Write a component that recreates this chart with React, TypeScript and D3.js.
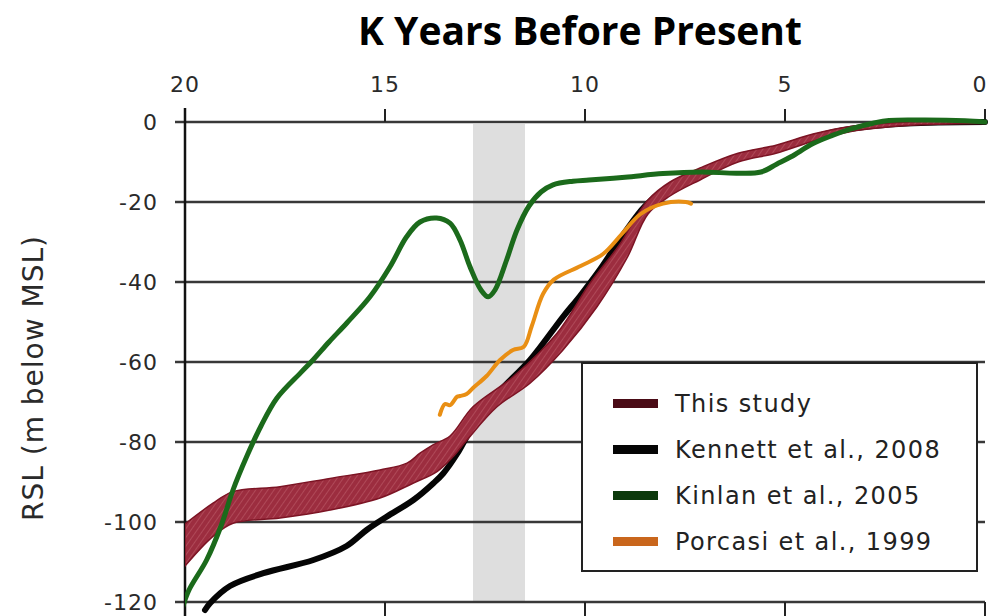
import React from 'react';
import * as d3 from 'd3';

// sea level curves, age = k years BP, rsl = metres relative to MSL
// "This study" envelope: upper and lower edges
const thisStudyUpperAge = [20, 19.3, 18.8, 17.625, 16.375, 15.125, 14.45, 14.125, 13.8, 13.375, 12.8, 11.8, 10.7, 9.875, 9.125, 8.8, 8.425, 7.875, 7.125, 6.175, 5.225, 4.3, 3.35, 1.95, 0];
const thisStudyUpperRsl = [-100.5, -95.3, -92.4, -91.2, -89.1, -87, -85.3, -82.8, -80.7, -78.5, -71.2, -63.7, -52.8, -40.3, -30.5, -25, -19.5, -15, -11.5, -7.8, -5.8, -3, -1.1, 0, 0.3];
const thisStudyLowerAge = [20, 19.3, 18.8, 17.625, 16.375, 15.125, 14.3, 13.7, 13.3, 12.95, 12.2, 11.375, 10.55, 9.7, 8.95, 8.425, 7.875, 7.125, 6.175, 5.225, 4.3, 3.35, 1.95, 0];
const thisStudyLowerRsl = [-111, -103.6, -100.3, -99, -97, -94, -90.3, -87.4, -83.7, -79.5, -71.2, -65.3, -57, -46.2, -34, -23, -18.5, -14.5, -10, -7.8, -4.8, -2.4, -0.9, -0.4];

const kennettAge = [19.5, 19.375, 18.875, 18.04, 16.79, 15.96, 15.46, 14.96, 14.29, 13.79, 13.54, 13.2, 12.8, 12.2, 11.375, 10.55, 10.125, 9.6, 9.0, 8.5, 7.9, 7.1, 6.17, 5.2, 4.3, 3.35, 1.95, 0];
const kennettRsl = [-122, -120.3, -116, -112.8, -109.5, -106, -102, -98.7, -94.5, -90.3, -87.8, -83, -76, -68, -59.5, -48.7, -43.5, -36.5, -27.5, -21, -16.2, -12.5, -8.7, -6.6, -3.8, -1.7, -0.4, 0];

const kinlanAge = [20.05, 19.9, 19.46, 19.1, 18.8, 18.46, 18.1, 17.7, 17.1, 16.8, 16.4, 15.96, 15.375, 14.875, 14.46, 14.125, 13.71, 13.375, 13.125, 12.875, 12.6, 12.42, 12.25, 11.96, 11.7, 11.4, 11.1, 10.8, 10.3, 9.9, 9.0, 8.05, 7.1, 6.2, 5.6, 5.2, 4.85, 4.3, 3.8, 3.35, 2.8, 2.4, 1.5, 0.5, 0];
const kinlanRsl = [-121, -117, -109.5, -101, -92, -83.7, -76, -69, -62.6, -59.5, -55, -50.3, -43.7, -36.2, -28.7, -25, -24, -25.3, -29.5, -36.2, -42, -43.7, -42, -34.5, -27, -21, -17.5, -15.7, -14.8, -14.5, -13.8, -12.9, -12.5, -12.8, -12.5, -10.5, -8.7, -5.4, -3.3, -1.7, -0.3, 0.4, 0.5, 0.3, 0];

const porcasiAge = [13.63, 13.5, 13.375, 13.2, 13.125, 12.96, 12.8, 12.46, 12.125, 11.8, 11.53, 11.33, 11.05, 10.78, 10.11, 9.55, 9.08, 8.61, 8.05, 7.48, 7.35];
const porcasiRsl = [-73.2, -70.5, -70.8, -68.7, -68.5, -68, -66.5, -63.5, -59.5, -57, -56.2, -51, -43, -39.4, -36, -33, -28, -23, -20.4, -20, -20.4];

const xTicks = [20, 15, 10, 5, 0];
const yTicks = [0, -20, -40, -60, -80, -100, -120];
const youngerDryas = [12.8, 11.5];

const legendItems = [
  { label: 'This study', color: '#4a0b16' },
  { label: 'Kennett et al., 2008', color: '#050505' },
  { label: 'Kinlan et al., 2005', color: '#0c3a0c' },
  { label: 'Porcasi et al., 1999', color: '#c9661c' },
];

const W = 989;
const H = 616;
const FONT = '"DejaVu Sans", Verdana, sans-serif';

export default function App() {
  const x = d3.scaleLinear().domain([20, 0]).range([185, 985]);
  const y = d3.scaleLinear().domain([0, -120]).range([122, 602]);

  const curve = d3.curveCatmullRom.alpha(0.5);
  const pts = (ts: number[], vs: number[]) => ts.map((t, i) => [t, vs[i]] as [number, number]);

  const line = d3.line<[number, number]>()
    .x((d) => x(d[0]))
    .y((d) => y(d[1]))
    .curve(curve);

  // envelope: upper edge left->right, then lower edge right->left
  const upperPath = line(pts(thisStudyUpperAge, thisStudyUpperRsl)) || '';
  const lowerPath = line(pts(thisStudyLowerAge, thisStudyLowerRsl).reverse()) || '';
  const bandPath = upperPath + lowerPath.replace(/^M/, 'L') + 'Z';

  const legendX = 582;
  const legendY = 363;

  return (
    <svg width={W} height={H} style={{ position: 'absolute', left: 0, top: 0, background: '#fff' }}>
      <defs>
        <clipPath id="plot-clip">
          <rect x={185} y={100} width={W - 185} height={H - 100} />
        </clipPath>
        <pattern id="hatch" width={5} height={5} patternUnits="userSpaceOnUse" patternTransform="rotate(35)">
          <rect width={5} height={5} fill="#9c2d3f" />
          <line x1={0} y1={0} x2={0} y2={5} stroke="#bd5b69" strokeWidth={1.2} />
        </pattern>
      </defs>

      {/* title */}
      <text x={580} y={45} textAnchor="middle" fontFamily='"Open Sans", sans-serif' fontWeight={700} fontSize={39} fill="#000">
        K Years Before Present
      </text>

      {/* younger dryas band */}
      <rect
        x={x(youngerDryas[0])}
        y={124}
        width={x(youngerDryas[1]) - x(youngerDryas[0])}
        height={y(-120) - 124}
        fill="#dedede"
      />

      {/* gridlines + left ticks */}
      {yTicks.map((v) => (
        <g key={v}>
          <line x1={175} x2={985} y1={y(v)} y2={y(v)} stroke="#383838" strokeWidth={2.5} />
          <text x={158} y={y(v)} dy="0.36em" textAnchor="end" fontFamily={FONT} fontSize={22} fill="#2a2a2a" letterSpacing={1}>
            {v}
          </text>
        </g>
      ))}

      {/* top / bottom ticks */}
      {xTicks.map((t) => (
        <g key={t}>
          <line x1={x(t)} x2={x(t)} y1={109} y2={122} stroke="#222" strokeWidth={2} />
          <line x1={x(t)} x2={x(t)} y1={602} y2={616} stroke="#222" strokeWidth={2} />
          <text x={t === 0 ? x(t) - 5 : x(t)} y={92} textAnchor="middle" fontFamily={FONT} fontSize={22} fill="#2a2a2a" letterSpacing={1}>
            {t}
          </text>
        </g>
      ))}

      {/* left axis */}
      <line x1={185} x2={185} y1={108} y2={616} stroke="#111" strokeWidth={2.5} />

      {/* y label */}
      <text
        transform="translate(43,378) rotate(-90)"
        textAnchor="middle"
        fontFamily={FONT}
        fontSize={28}
        fill="#2a2a2a"
        letterSpacing={1}
      >
        RSL (m below MSL)
      </text>

      <g clipPath="url(#plot-clip)">
        <path d={line(pts(kennettAge, kennettRsl)) || ''} fill="none" stroke="#050505" strokeWidth={6} strokeLinecap="round" />
        <path d={bandPath} fill="url(#hatch)" stroke="#7c1424" strokeWidth={1.5} />
        <path d={line(pts(kinlanAge, kinlanRsl)) || ''} fill="none" stroke="#1b6a1b" strokeWidth={5} strokeLinecap="round" />
        <path d={line(pts(porcasiAge, porcasiRsl)) || ''} fill="none" stroke="#e98f14" strokeWidth={4} strokeLinecap="round" />
      </g>

      {/* legend */}
      <rect x={legendX} y={legendY} width={395} height={208} fill="#fff" stroke="#222" strokeWidth={2} />
      {legendItems.map((d, i) => (
        <g key={d.label} transform={`translate(${legendX}, ${legendY + 40 + i * 46})`}>
          <rect x={31} y={-4} width={45} height={9} fill={d.color} />
          <text x={93} y={0} dy="0.36em" fontFamily={FONT} fontSize={24} fill="#222" letterSpacing={1.4}>
            {d.label}
          </text>
        </g>
      ))}
    </svg>
  );
}
